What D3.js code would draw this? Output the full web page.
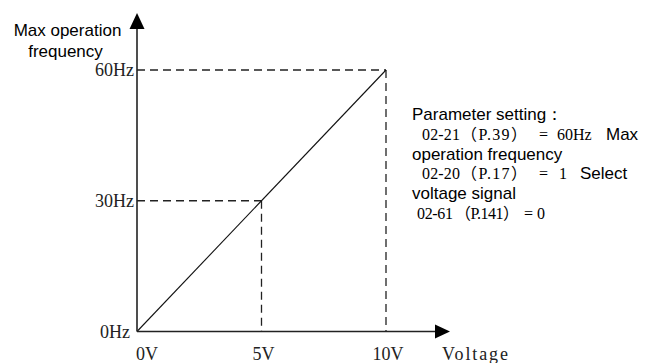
<!DOCTYPE html>
<html><head><meta charset="utf-8">
<script src="https://cdn.jsdelivr.net/npm/d3@7"></script>
<style>body{margin:0;background:#fff}svg{display:block}</style>
</head><body>
<svg id="c" width="645" height="363"></svg>
<script>
// Data
const voltageTicks = [0, 5, 10];
const voltageLabels = ["0V", "5V", "10V"];
const freqTicks = [0, 30, 60];
const freqLabels = ["0Hz", "30Hz", "60Hz"];
const lineVolts = [0, 10];
const lineFreqs = [0, 60];
const markVolts = [5, 10];
const markFreqs = [30, 60];
const yTitle = ["Max operation", "frequency"];
const xTitle = "Voltage";
const noteLines = [
  [{t:"Parameter setting：", f:"sans"}],
  [{t:"02-21", f:"serif"}, {t:"（P.39）", f:"serif"}, {t:"=", f:"serif"}, {t:"60Hz", f:"serif"}, {t:"Max", f:"sans"}],
  [{t:"operation frequency", f:"sans"}],
  [{t:"02-20", f:"serif"}, {t:"（P.17）", f:"serif"}, {t:"=", f:"serif"}, {t:"1", f:"serif"}, {t:"Select", f:"sans"}],
  [{t:"voltage signal", f:"sans"}],
  [{t:"02-61", f:"serif"}, {t:"（P.141）", f:"serif"}, {t:"= 0", f:"serif"}]
];

const svg = d3.select("#c");
const x = d3.scaleLinear().domain([0, 10]).range([137, 386]);
const y = d3.scaleLinear().domain([0, 60]).range([331.5, 70]);
const SANS = "'Liberation Sans', Arial, sans-serif";
const SERIF = "'Liberation Serif', 'Times New Roman', 'Noto Sans CJK SC', serif";

// dashed guides
const g = svg.append("g");
markVolts.forEach((v, i) => {
  const f = markFreqs[i];
  g.append("line").attr("x1", x(0)).attr("x2", x(v)).attr("y1", y(f)).attr("y2", y(f))
   .attr("stroke", "#222").attr("stroke-width", 1.3).attr("stroke-dasharray", "8,5");
  g.append("line").attr("x1", x(v)).attr("x2", x(v)).attr("y1", y(f)).attr("y2", y(0))
   .attr("stroke", "#222").attr("stroke-width", 1.3).attr("stroke-dasharray", "8,5");
});

// main line
svg.append("path")
  .datum(lineVolts.map((v, i) => [v, lineFreqs[i]]))
  .attr("d", d3.line().x(d => x(d[0])).y(d => y(d[1])))
  .attr("fill", "none").attr("stroke", "#111").attr("stroke-width", 1.1);

// axes
svg.append("line").attr("x1", x(0)).attr("x2", 436).attr("y1", y(0)).attr("y2", y(0))
  .attr("stroke", "#222").attr("stroke-width", 1.6);
svg.append("path").attr("d", `M435,${y(0)-7} L450,${y(0)} L435,${y(0)+7} Z`).attr("fill", "#000");
svg.append("line").attr("x1", x(0)).attr("x2", x(0)).attr("y1", y(0)).attr("y2", 28)
  .attr("stroke", "#222").attr("stroke-width", 1.6);
svg.append("path").attr("d", `M${x(0)-7.5},29 L${x(0)},13 L${x(0)+7.5},29 Z`).attr("fill", "#000");

// tick labels
svg.selectAll("text.yl").data(freqTicks).join("text").attr("class", "yl")
  .attr("x", (d, i) => i === 0 ? 130 : 134).attr("y", d => y(d) + 6)
  .attr("text-anchor", "end").attr("font-family", SERIF).attr("font-size", 18)
  .attr("fill", "#222").text((d, i) => freqLabels[i]);
svg.selectAll("text.xl").data(voltageTicks).join("text").attr("class", "xl")
  .attr("x", (d, i) => i === 0 ? x(d) + 10 : x(d) + 2).attr("y", 360)
  .attr("text-anchor", "middle").attr("font-family", SERIF).attr("font-size", 18)
  .attr("fill", "#222").text((d, i) => voltageLabels[i]);
svg.append("text").attr("x", 442).attr("y", 360).attr("font-family", SERIF)
  .attr("font-size", 18).attr("fill", "#222").attr("textLength", 66).text(xTitle);

// y title
yTitle.forEach((t, i) => {
  svg.append("text").attr("x", i === 0 ? 67.5 : 65.5).attr("y", 36 + i * 20.5)
    .attr("text-anchor", "middle").attr("font-family", SANS).attr("font-size", 17)
    .attr("fill", "#000").text(t);
});

// notes (piece x-positions / widths are layout)
const pieceX = [
  [412],
  [422, 461, 539, 557, 606],
  [412],
  [422, 461, 539, 559, 580],
  [412],
  [417, 455, 524]
];
const pieceW = [
  [0],
  [38, 66, 0, 0, 0],
  [0],
  [38, 66, 0, 0, 0],
  [0],
  [36, 64, 0]
];
noteLines.forEach((ln, i) => {
  ln.forEach((p, j) => {
    const t = svg.append("text").attr("x", pieceX[i][j]).attr("y", 120 + i * 19.8)
      .attr("font-family", p.f === "sans" ? SANS : SERIF)
      .attr("font-size", p.f === "sans" ? 17 : 16).attr("fill", "#000").text(p.t);
    if (pieceW[i][j]) t.attr("textLength", pieceW[i][j]).attr("lengthAdjust", "spacing");
  });
});
</script>
</body></html>
